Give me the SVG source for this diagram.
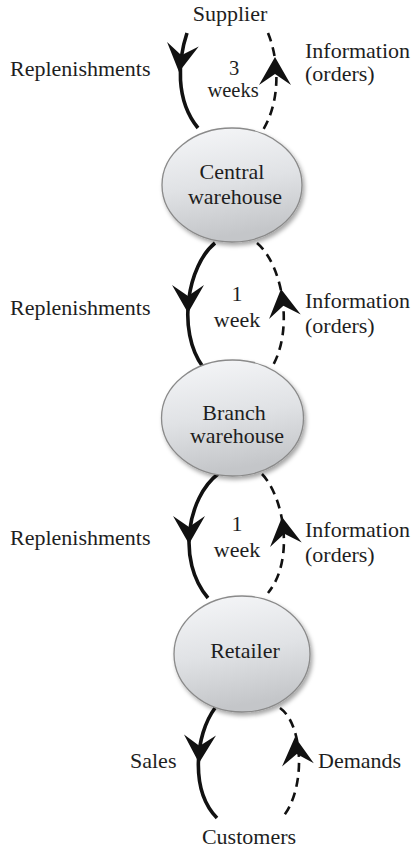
<svg xmlns="http://www.w3.org/2000/svg" xmlns:xlink="http://www.w3.org/1999/xlink" width="413" height="850" viewBox="0 0 413 850">
<style>
text{font-family:"Liberation Serif","DejaVu Serif",serif;font-size:22px;fill:#1e1e1e}
.c{text-anchor:middle}
.s{font-size:20.5px}
.node ellipse{fill:url(#g);stroke:#8a8a8a;stroke-width:1.3;filter:url(#sh)}
.solid{fill:none;stroke:#111;stroke-width:3.6;stroke-linecap:butt}
.dash{fill:none;stroke:#111;stroke-width:2.6;stroke-dasharray:9 6}
.head{fill:#111}
</style>
<defs>
<linearGradient id="g" x1="0" y1="0" x2="0.2" y2="1">
<stop offset="0" stop-color="#f6f7f9"/>
<stop offset="0.55" stop-color="#e0e2e5"/>
<stop offset="1" stop-color="#c4c6c9"/>
</linearGradient>
<filter id="sh" x="-20%" y="-20%" width="140%" height="140%">
<feDropShadow dx="2" dy="3" stdDeviation="2" flood-color="#000" flood-opacity="0.35"/>
</filter>
<path id="ah" d="M0,0 L-16,-28 L0,-17 L16,-28 Z"/>
</defs>
<rect width="413" height="850" fill="#fff"/>
<g id="connectors">
<path class="solid" d="M187,33 C178,60 175,100 198,128"/>
<use href="#ah" class="head" transform="translate(179,72) rotate(8)"/>
<path class="dash" d="M268,33 C279,60 281,100 263,130"/>
<use href="#ah" class="head" transform="translate(275,57) rotate(180)"/>
<path class="solid" d="M215,243 C188,265 176,330 203,367"/>
<use href="#ah" class="head" transform="translate(188,313) rotate(0)"/>
<path class="dash" d="M257,243 C283,265 294,330 272,367"/>
<use href="#ah" class="head" transform="translate(281,289) rotate(172)"/>
<path class="solid" d="M218,474 C188,497 176,560 208,598"/>
<use href="#ah" class="head" transform="translate(189,544) rotate(0)"/>
<path class="dash" d="M262,474 C284,497 295,560 268,593"/>
<use href="#ah" class="head" transform="translate(282,517) rotate(172)"/>
<path class="solid" d="M215,708 C195,735 190,790 217,818"/>
<use href="#ah" class="head" transform="translate(199,763) rotate(2)"/>
<path class="dash" d="M280,708 C304,725 306,790 282,818"/>
<use href="#ah" class="head" transform="translate(295,737) rotate(174)"/>
</g>
<g id="central" class="node">
<ellipse cx="232" cy="185" rx="70" ry="57"/>
<text class="c" x="232" y="179">Central</text>
<text class="c" x="235" y="204">warehouse</text>
</g>
<g id="branch" class="node">
<ellipse cx="232.5" cy="418" rx="71" ry="58"/>
<text class="c" x="234" y="420">Branch</text>
<text class="c" x="237" y="443">warehouse</text>
</g>
<g id="retailer" class="node">
<ellipse cx="242" cy="654" rx="68" ry="58"/>
<text class="c" x="245" y="658">Retailer</text>
</g>
<g id="labels">
<text class="c" x="230" y="21">Supplier</text>
<text x="10" y="76">Replenishments</text>
<text class="c s" x="234" y="75">3</text>
<text class="c s" x="233" y="97">weeks</text>
<text x="305" y="58">Information</text>
<text x="305" y="81">(orders)</text>
<text x="10" y="315">Replenishments</text>
<text class="c" x="237" y="301">1</text>
<text class="c" x="237" y="327">week</text>
<text x="305" y="308">Information</text>
<text x="305" y="333">(orders)</text>
<text x="10" y="545">Replenishments</text>
<text class="c" x="237" y="531">1</text>
<text class="c" x="237" y="557">week</text>
<text x="305" y="537">Information</text>
<text x="305" y="562">(orders)</text>
<text x="130" y="768">Sales</text>
<text x="318" y="768">Demands</text>
<text class="c" x="249" y="844">Customers</text>
</g>
</svg>
